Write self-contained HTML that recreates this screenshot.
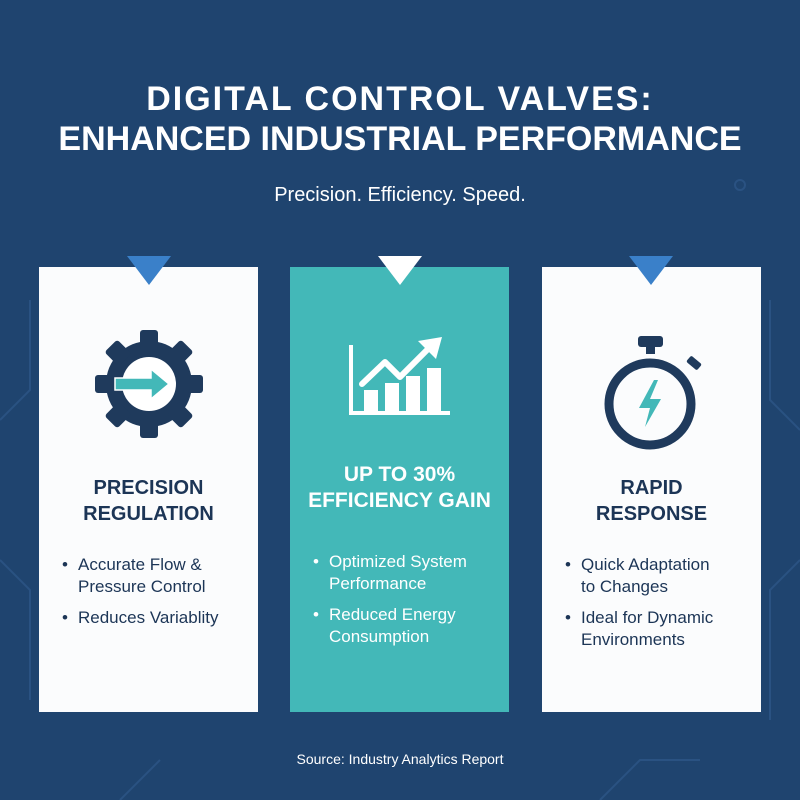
<!DOCTYPE html>
<html><head><meta charset="utf-8"><style>
body{margin:0;width:800px;height:800px;background:#1f446f;font-family:"Liberation Sans",sans-serif;position:relative;overflow:hidden}
.t{position:absolute;left:0;width:800px;text-align:center;color:#fff}
.card{position:absolute;top:267px;width:219px;height:445px;background:#fbfcfd}
.tri{position:absolute;top:256px;width:0;height:0;border-left:22px solid transparent;border-right:22px solid transparent;border-top:29px solid #3a80c9}
.h{position:absolute;left:0;width:100%;text-align:center;font-weight:bold;font-size:20px;line-height:26px;color:#1c3556}
ul{position:absolute;margin:0;padding:0;list-style:none;font-size:17px;line-height:22px;color:#1c3556;white-space:nowrap}
li{position:relative;padding-left:17px;margin-bottom:9px}
li:before{content:"•";position:absolute;left:1px}
</style></head><body>
<svg width="800" height="800" style="position:absolute;left:0;top:0" fill="none" stroke="#2a5282" stroke-width="2">
<path d="M0 420 L30 390 L30 300"/><path d="M0 560 L30 590 L30 700"/><path d="M800 430 L770 400 L770 300"/><path d="M800 560 L770 590 L770 720"/>
<path d="M600 800 L640 760 L700 760"/><path d="M120 800 L160 760"/><circle cx="740" cy="185" r="5"/>
</svg>
<div class="t" style="top:79px;font-size:34px;font-weight:bold;line-height:40px"><span style="letter-spacing:2px">DIGITAL CONTROL VALVES:</span><br>ENHANCED INDUSTRIAL PERFORMANCE</div>
<div class="t" style="top:184px;font-size:20px">Precision. Efficiency. Speed.</div>

<div class="card" style="left:39px">
<svg style="position:absolute;left:50px;top:57px" width="120" height="120" viewBox="-60 -60 120 120">
<g fill="#1f3a5c"><circle r="43"/>
<g id="tt"><rect x="-9" y="-54" width="18" height="20" rx="3"/></g>
<use href="#tt" transform="rotate(45)"/><use href="#tt" transform="rotate(90)"/><use href="#tt" transform="rotate(135)"/><use href="#tt" transform="rotate(180)"/><use href="#tt" transform="rotate(225)"/><use href="#tt" transform="rotate(270)"/><use href="#tt" transform="rotate(315)"/></g>
<circle r="27" fill="#fff"/>
<path d="M-34 -6 H2 V-15 L20 0 L2 15 V6 H-34Z" fill="#43b8b8" stroke="#fff" stroke-width="1.5"/>
</svg>
<div class="h" style="top:208px">PRECISION<br>REGULATION</div>
<ul style="left:22px;top:287px"><li>Accurate Flow &amp;<br>Pressure Control</li><li>Reduces Variablity</li></ul>
</div>
<div class="tri" style="left:127px"></div>

<div class="card" style="left:290px;background:#43b8b8">
<svg style="position:absolute;left:50px;top:60px" width="120" height="110" fill="#fff">
<rect x="9" y="18" width="4" height="70"/><rect x="9" y="84" width="101" height="4"/>
<rect x="24" y="63" width="14" height="24"/><rect x="45" y="56" width="14" height="31"/><rect x="66" y="49" width="14" height="38"/><rect x="87" y="41" width="14" height="46"/>
<path d="M22 57 L45 35 L60 50 L88 22" stroke="#fff" stroke-width="6" fill="none" stroke-linecap="round" stroke-linejoin="round"/>
<path d="M78 14 L102 10 L96 32Z"/>
</svg>
<div class="h" style="top:195px;color:#fff;font-size:21px">UP TO 30%<br>EFFICIENCY GAIN</div>
<ul style="left:22px;top:284px;color:#fff"><li>Optimized System<br>Performance</li><li>Reduced Energy<br>Consumption</li></ul>
</div>
<div class="tri" style="left:378px;border-top-color:#fff"></div>

<div class="card" style="left:542px">
<svg style="position:absolute;left:50px;top:55px" width="120" height="130">
<rect x="46" y="14" width="25" height="11" rx="3" fill="#1f3a5c"/><rect x="54" y="22" width="9" height="10" fill="#1f3a5c"/>
<rect x="95" y="37" width="14" height="8" rx="2" fill="#1f3a5c" transform="rotate(40 102 41)"/>
<circle cx="58" cy="82" r="41" fill="none" stroke="#1f3a5c" stroke-width="9"/>
<path d="M62 58 L47 86 L58 86 L53 105 L69 77 L58 77 L66 58Z" fill="#43b8b8"/>
</svg>
<div class="h" style="top:208px">RAPID<br>RESPONSE</div>
<ul style="left:22px;top:287px"><li>Quick Adaptation<br>to Changes</li><li>Ideal for Dynamic<br>Environments</li></ul>
</div>
<div class="tri" style="left:629px"></div>

<div class="t" style="top:751px;font-size:14px">Source: Industry Analytics Report</div>
</body></html>
